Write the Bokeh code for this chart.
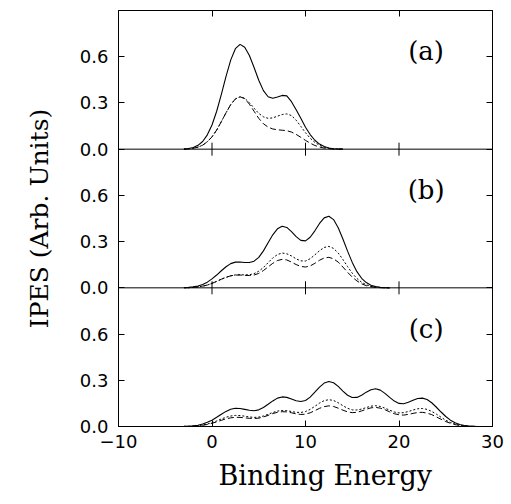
import math
from bokeh.plotting import figure
from bokeh.models import Range1d, LinearAxis, FixedTicker, Label, Span, Title, CustomJSTickFormatter
from bokeh.embed import file_html
from bokeh.resources import INLINE

# ---------------- data ----------------
energy_a = [-3, -2.5, -2, -1.5, -1, -0.5, 0, 0.5, 1, 1.5, 2, 2.5, 3, 3.5, 4, 4.5, 5, 5.5,
            6, 6.5, 7, 7.5, 8, 8.5, 9, 9.5, 10, 10.5, 11, 11.5, 12, 12.5, 13, 13.5, 14]
a_solid = [0.0, 0.004, 0.011, 0.025, 0.05, 0.093, 0.157, 0.246, 0.356, 0.472,
           0.578, 0.652, 0.68, 0.662, 0.608, 0.53, 0.447, 0.38, 0.34, 0.33,
           0.338, 0.349, 0.346, 0.308, 0.256, 0.2, 0.142, 0.095, 0.058, 0.033,
           0.017, 0.008, 0.003, 0.001, 0.0]
a_dotted = [0.0, 0.002, 0.006, 0.013, 0.026, 0.048, 0.08, 0.124, 0.179, 0.236,
            0.289, 0.326, 0.34, 0.33, 0.302, 0.266, 0.232, 0.21, 0.2, 0.203,
            0.214, 0.225, 0.229, 0.218, 0.188, 0.148, 0.107, 0.071, 0.044, 0.025,
            0.013, 0.006, 0.002, 0.001, 0.0]
a_dashed = [0.0, 0.002, 0.006, 0.013, 0.026, 0.048, 0.08, 0.124, 0.179, 0.236,
            0.289, 0.326, 0.34, 0.328, 0.292, 0.246, 0.2, 0.165, 0.143, 0.131,
            0.126, 0.123, 0.12, 0.111, 0.096, 0.077, 0.057, 0.039, 0.024, 0.014,
            0.007, 0.003, 0.001, 0.0, 0.0]

energy_b = [-3, -2.5, -2, -1.5, -1, -0.5, 0, 0.5, 1, 1.5, 2, 2.5, 3, 3.5, 4, 4.5, 5, 5.5,
            6, 6.5, 7, 7.5, 8, 8.5, 9, 9.5, 10, 10.5, 11, 11.5, 12, 12.5, 13, 13.5,
            14, 14.5, 15, 15.5, 16, 16.5, 17, 17.5, 18, 18.5, 19]
b_solid = [0.001, 0.003, 0.006, 0.012, 0.022, 0.037, 0.058, 0.083, 0.111, 0.137,
           0.157, 0.167, 0.168, 0.164, 0.164, 0.173, 0.198, 0.24, 0.292, 0.344,
           0.383, 0.4, 0.392, 0.365, 0.332, 0.308, 0.305, 0.328, 0.37, 0.418,
           0.454, 0.465, 0.443, 0.39, 0.317, 0.238, 0.165, 0.105, 0.062, 0.034,
           0.017, 0.008, 0.003, 0.001, 0.0]
b_dotted = [0.001, 0.001, 0.003, 0.006, 0.011, 0.018, 0.029, 0.042, 0.056, 0.068,
            0.078, 0.084, 0.085, 0.084, 0.085, 0.092, 0.108, 0.132, 0.163, 0.194,
            0.216, 0.226, 0.221, 0.207, 0.188, 0.175, 0.174, 0.189, 0.214, 0.241,
            0.262, 0.269, 0.256, 0.226, 0.184, 0.138, 0.095, 0.061, 0.036, 0.02,
            0.01, 0.005, 0.002, 0.001, 0.0]
b_dashed = [0.001, 0.001, 0.003, 0.006, 0.011, 0.018, 0.029, 0.042, 0.056, 0.068,
            0.078, 0.083, 0.083, 0.081, 0.08, 0.083, 0.094, 0.112, 0.136, 0.159,
            0.177, 0.185, 0.181, 0.167, 0.151, 0.139, 0.135, 0.142, 0.159, 0.179,
            0.194, 0.198, 0.188, 0.167, 0.135, 0.101, 0.07, 0.045, 0.026, 0.014,
            0.007, 0.003, 0.001, 0.001, 0.0]

energy_c = [-3, -2.5, -2, -1.5, -1, -0.5, 0, 0.5, 1, 1.5, 2, 2.5, 3, 3.5, 4, 4.5, 5, 5.5,
            6, 6.5, 7, 7.5, 8, 8.5, 9, 9.5, 10, 10.5, 11, 11.5, 12, 12.5, 13, 13.5,
            14, 14.5, 15, 15.5, 16, 16.5, 17, 17.5, 18, 18.5, 19, 19.5, 20, 20.5,
            21, 21.5, 22, 22.5, 23, 23.5, 24, 24.5, 25, 25.5, 26, 26.5, 27, 27.5,
            28, 28.5, 29]
c_solid = [0.001, 0.002, 0.004, 0.008, 0.016, 0.027, 0.041, 0.06, 0.08, 0.098,
           0.112, 0.118, 0.117, 0.111, 0.105, 0.102, 0.108, 0.123, 0.144, 0.166,
           0.184, 0.192, 0.189, 0.178, 0.167, 0.162, 0.169, 0.191, 0.223, 0.256,
           0.282, 0.292, 0.284, 0.26, 0.23, 0.203, 0.188, 0.189, 0.203, 0.223,
           0.239, 0.245, 0.236, 0.215, 0.189, 0.165, 0.15, 0.148, 0.157, 0.17,
           0.182, 0.184, 0.175, 0.154, 0.125, 0.094, 0.065, 0.041, 0.024, 0.013,
           0.007, 0.003, 0.001, 0.0, 0.0]
c_dotted = [0.001, 0.001, 0.003, 0.005, 0.01, 0.016, 0.025, 0.036, 0.049, 0.06,
            0.068, 0.072, 0.071, 0.067, 0.062, 0.059, 0.061, 0.068, 0.079, 0.091,
            0.1, 0.104, 0.103, 0.097, 0.092, 0.091, 0.097, 0.111, 0.131, 0.152,
            0.168, 0.174, 0.169, 0.154, 0.135, 0.118, 0.108, 0.107, 0.113, 0.123,
            0.132, 0.135, 0.13, 0.119, 0.106, 0.094, 0.088, 0.09, 0.097, 0.107,
            0.115, 0.117, 0.111, 0.098, 0.08, 0.06, 0.041, 0.026, 0.016, 0.008,
            0.004, 0.002, 0.001, 0.0, 0.0]
c_dashed = [0.0, 0.001, 0.002, 0.004, 0.008, 0.013, 0.021, 0.03, 0.04, 0.05,
            0.056, 0.06, 0.059, 0.056, 0.053, 0.052, 0.054, 0.062, 0.072, 0.084,
            0.092, 0.096, 0.095, 0.089, 0.082, 0.078, 0.08, 0.089, 0.103, 0.118,
            0.129, 0.134, 0.13, 0.119, 0.106, 0.095, 0.09, 0.092, 0.101, 0.112,
            0.121, 0.124, 0.119, 0.109, 0.095, 0.083, 0.076, 0.074, 0.079, 0.085,
            0.091, 0.092, 0.087, 0.077, 0.062, 0.047, 0.032, 0.021, 0.012, 0.007,
            0.003, 0.002, 0.001, 0.0, 0.0]

panel_labels = ["(a)", "(b)", "(c)"]
y_ticks = [0.0, 0.3, 0.6]
x_ticks = [0, 10, 20]
x_tick_labels = [-10, 0, 10, 20, 30]
x_label = "Binding Energy"
y_label = "IPES (Arb. Units)"

# ---------------- layout / styling ----------------
SANS = "DejaVu Sans"
SERIF = "DejaVu Serif"
TICK_FS = "18px"
PANEL_H = 0.9                      # height of one panel in data units
offsets = [2 * PANEL_H, PANEL_H, 0.0]   # panels (a), (b), (c) from top to bottom

p = figure(width=511, height=504, x_range=Range1d(-10, 30),
           y_range=Range1d(0, 3 * PANEL_H),
           output_backend="svg", toolbar_location=None,
           x_axis_type=None, y_axis_type=None,
           min_border_left=118, min_border_right=19,
           min_border_top=10, min_border_bottom=78)
p.outline_line_color = "black"
p.outline_line_width = 1
p.background_fill_color = "white"
p.border_fill_color = "white"

blank = CustomJSTickFormatter(code="return ''")

# y ticks repeated in each panel
ytick_pos = [off + t for off in offsets for t in y_ticks]
ytick_txt = {off + t: f"{t:.1f}" for off in offsets for t in y_ticks}

ya = LinearAxis(ticker=FixedTicker(ticks=ytick_pos))
ya.major_label_overrides = ytick_txt
ya.major_tick_in = 6
ya.major_tick_out = 0
ya.minor_tick_line_color = None
ya.major_label_standoff = 10
ya.major_label_text_font = SANS
ya.major_label_text_font_size = TICK_FS
ya.major_label_text_color = "black"
ya.axis_line_color = "black"
p.add_layout(ya, "left")

yr = LinearAxis(ticker=FixedTicker(ticks=ytick_pos), formatter=blank)
yr.major_tick_in = 6
yr.major_tick_out = 0
yr.minor_tick_line_color = None
yr.major_label_standoff = 0
yr.axis_line_color = "black"
p.add_layout(yr, "right")

xt = LinearAxis(ticker=FixedTicker(ticks=x_ticks), formatter=blank)
xt.major_tick_in = 6
xt.major_tick_out = 0
xt.minor_tick_line_color = None
xt.major_label_standoff = 0
xt.axis_line_color = "black"
p.add_layout(xt, "above")

xb = LinearAxis(ticker=FixedTicker(ticks=x_tick_labels))
xb.major_label_overrides = {t: (("\u2212" + str(abs(t))) if t < 0 else str(t))
                            for t in x_tick_labels}
xb.major_label_text_font = SANS
xb.major_label_text_font_size = TICK_FS
xb.major_label_text_color = "black"
xb.major_label_standoff = 8
xb.major_tick_in = 6
xb.major_tick_out = 0
xb.minor_tick_line_color = None
xb.axis_line_color = "black"
p.add_layout(xb, "below")

# axis titles as Title panels (so they can sit outside the frame)
p.add_layout(Title(text=x_label, align="left", offset=100, standoff=14,
                   text_font=SERIF, text_font_size="27px",
                   text_font_style="normal", text_color="black"), "below")
p.add_layout(Title(text=y_label, align="center", offset=-5, standoff=42,
                   vertical_align="top",
                   text_font=SERIF, text_font_size="25px",
                   text_font_style="normal", text_color="black"), "left")

# panel separators and the x ticks that cross them
for off in offsets[:2]:
    p.add_layout(Span(location=off, dimension="width", line_color="black", line_width=1))
sep_x = [x for off in offsets[:2] for x in x_ticks]
sep_y = [off for off in offsets[:2] for x in x_ticks]
p.scatter(sep_x, sep_y, marker="dash", size=13, angle=math.pi / 2,
          line_color="black", line_width=1)

# curves
curves = [(energy_a, a_solid, a_dotted, a_dashed),
          (energy_b, b_solid, b_dotted, b_dashed),
          (energy_c, c_solid, c_dotted, c_dashed)]
for off, (en, s, d1, d2) in zip(offsets, curves):
    p.line(en, [v + off for v in s], line_color="black", line_width=1.1)
    p.line(en, [v + off for v in d1], line_color="black", line_width=1.0, line_dash="2 2")
    p.line(en, [v + off for v in d2], line_color="black", line_width=1.0, line_dash="6 3")

for off, lab in zip(offsets, panel_labels):
    p.add_layout(Label(x=22.9, y=off + 0.635, text=lab, text_font=SERIF,
                       text_font_size="26px", text_align="center",
                       text_baseline="middle", text_color="black"))

with open("out.html", "w") as f:
    f.write(file_html(p, INLINE))
